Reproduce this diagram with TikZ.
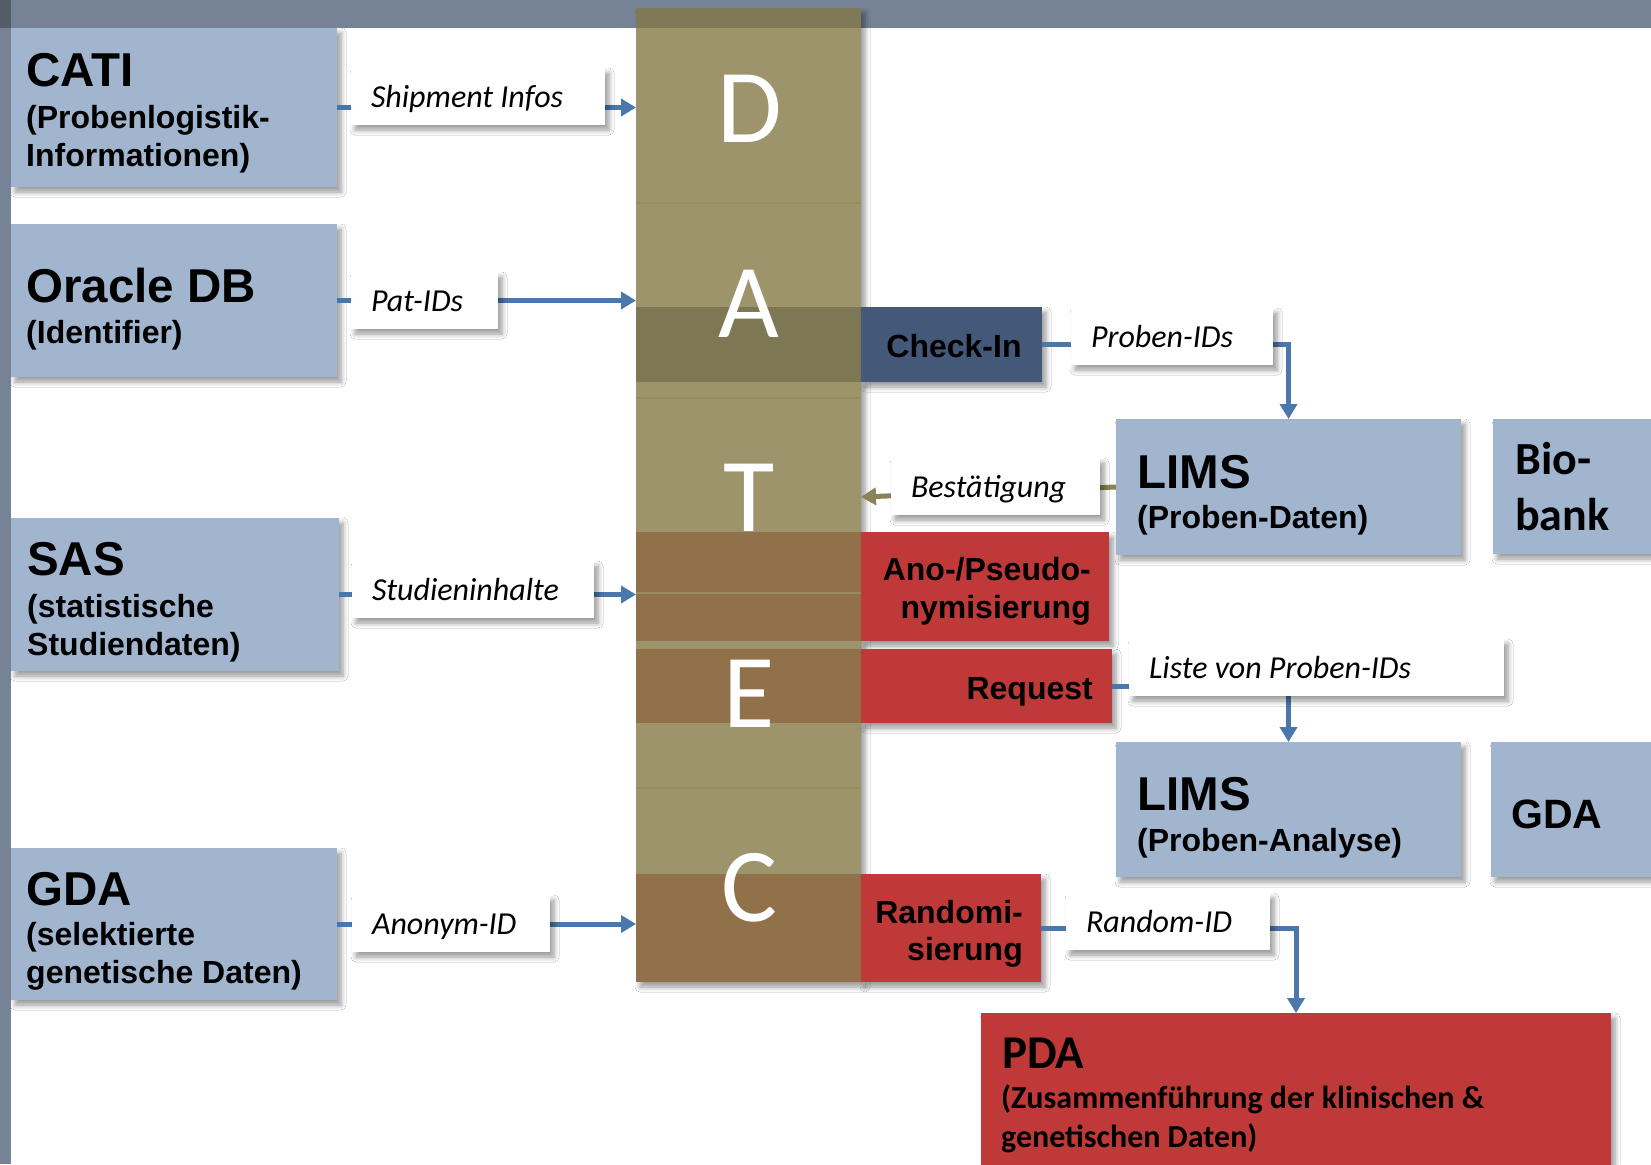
\documentclass[tikz,border=0pt]{standalone}
\usepackage{fontspec}
\usetikzlibrary{arrows.meta,shadows.blur}
\newfontfamily\arialf{Liberation Sans}
\newfontfamily\calf{Carlito}
\definecolor{bandgray}{RGB}{118,131,150}
\definecolor{boxblue}{RGB}{162,181,207}
\definecolor{olivecol}{RGB}{157,148,108}
\definecolor{olivedark}{RGB}{125,120,83}
\definecolor{brownband}{RGB}{144,113,74}
\definecolor{checkblue}{RGB}{68,89,122}
\definecolor{boxred}{RGB}{191,57,57}
\definecolor{flowblue}{RGB}{74,120,173}
\definecolor{flowolive}{RGB}{138,131,86}
\definecolor{dividercol}{RGB}{150,140,92}
\newcommand\lbtext[2]{\makebox[#1][l]{#2}}
\tikzset{
  shd/.style={blur shadow={shadow xshift=4pt, shadow yshift=-5pt, shadow blur radius=5pt, shadow blur steps=6, shadow opacity=40}},
  box/.style={anchor=north west, inner sep=0pt, outer sep=0pt, shd},
  bluebox/.style={box, fill=boxblue},
  redbox/.style={box, fill=boxred},
  lbl/.style={anchor=north west, fill=white, inner xsep=20pt, inner ysep=0pt, outer sep=0pt, minimum height=57pt, text height=25pt, text depth=4pt, font=\calf\itshape\fontsize{32}{38}\selectfont, shd},
  ttl/.style={anchor=base west, inner sep=0pt, font=\arialf\bfseries\fontsize{47.5}{57}\selectfont},
  subt/.style={anchor=base west, inner sep=0pt, font=\arialf\bfseries\fontsize{32}{38}\selectfont},
  redtxt/.style={anchor=base east, inner sep=0pt, font=\arialf\bfseries\fontsize{32}{38}\selectfont},
  letter/.style={anchor=base, inner sep=0pt, text=white, font=\calf\fontsize{105}{120}\selectfont},
  flow/.style={draw=flowblue, line width=5pt, -{Triangle[length=15pt,width=17pt]}},
  flowback/.style={draw=flowolive, line width=5pt, -{Triangle[length=15pt,width=17pt]}},
}
\begin{document}
\begin{tikzpicture}[x=1pt,y=-1pt]
\useasboundingbox (0,0) rectangle (1651,1164);
\clip (0,0) rectangle (1651,1164);
\fill[white] (0,0) rectangle (1651,1164);
% top band
\fill[bandgray] (0,0) rectangle (1651,28);

% DATEC column
\node[box, fill=olivecol, minimum width=225pt, minimum height=974pt] (datec) at (636,8) {};
\fill[black, opacity=0.18] (636,8) rectangle (861,28);
\fill[olivedark] (636,307) rectangle (861,382);
\fill[brownband] (636,532) rectangle (861,641);
\fill[brownband] (636,649) rectangle (861,723);
\fill[brownband] (636,874) rectangle (861,982);
\foreach \yy in {203,398,593,788} \draw[dividercol, line width=2pt] (636,\yy) -- (861,\yy);

% left boxes
\node[bluebox, minimum width=326pt, minimum height=159pt] (cati) at (11,28) {};
\node[bluebox, minimum width=326pt, minimum height=153pt] (oracle) at (11,224) {};
\node[bluebox, minimum width=328pt, minimum height=153pt] (sas) at (11,518) {};
\node[bluebox, minimum width=326pt, minimum height=152pt] (gdaL) at (11,848) {};

% right side boxes
\node[box, fill=checkblue, minimum width=181pt, minimum height=75pt] (checkin) at (861,307) {};
\node[redbox, minimum width=248pt, minimum height=109pt] (ano) at (861,532) {};
\node[redbox, minimum width=251pt, minimum height=74pt] (request) at (861,649) {};
\node[redbox, minimum width=180pt, minimum height=108pt] (randomi) at (861,874) {};
\node[bluebox, minimum width=345pt, minimum height=136pt] (lims1) at (1116,419) {};
\node[bluebox, minimum width=170pt, minimum height=135pt] (biobank) at (1493,419) {};
\node[bluebox, minimum width=345pt, minimum height=135pt] (lims2) at (1116,742) {};
\node[bluebox, minimum width=172pt, minimum height=135pt] (gdaR) at (1491,742) {};
\node[redbox, minimum width=630pt, minimum height=170pt] (pda) at (981,1013) {};

% connectors
\draw[flow] (cati.east) -- (cati.east -| datec.west);
\draw[flow] (oracle.east) -- (oracle.east -| datec.west);
\draw[flow] (sas.east) -- (sas.east -| datec.west);
\draw[flow] (gdaL.east) -- (gdaL.east -| datec.west);
\draw[flow] (checkin.east) -| (lims1.north);
\draw[flow] (request.east) -| (lims2.north);
\draw[flow] (randomi.east) -| (pda.north);
\draw[flowback] (lims1.west) -- (datec.east |- 0,497);

% labels
\node[lbl] (lship) at (351,68) {\lbtext{214pt}{Shipment Infos}};
\node[lbl] (lpat) at (351,272) {\lbtext{107pt}{Pat-IDs}};
\node[lbl] (lstud) at (352,561) {\lbtext{202pt}{Studieninhalte}};
\node[lbl] (lanon) at (352,895) {\lbtext{158pt}{Anonym-ID}};
\node[lbl] (lproben) at (1071,308) {\lbtext{162pt}{Proben-IDs}};
\node[lbl] (lbest) at (891,458) {\lbtext{169pt}{Bestätigung}};
\node[lbl] (lliste) at (1129,639) {\lbtext{335pt}{Liste von Proben-IDs}};
\node[lbl] (lrandom) at (1066,893) {\lbtext{164pt}{Random-ID}};

% DATEC letters
\node[letter] (letD) at (750,142) {D};
\node[letter] (letA) at (749,337) {A};
\node[letter] (letT) at (749,531) {T};
\node[letter] (letE) at (749,727) {E};
\node[letter] (letC) at (749,921) {C};

% texts of left boxes
\node[ttl] (catiT) at (26,86) {CATI};
\node[subt] (catiS1) at (26,128) {(Probenlogistik-};
\node[subt] (catiS2) at (26,166) {Informationen)};
\node[ttl] (oracleT) at (26,302) {Oracle DB};
\node[subt] (oracleS1) at (26,343) {(Identifier)};
\node[ttl] (sasT) at (27,575) {SAS};
\node[subt] (sasS1) at (27,617) {(statistische};
\node[subt] (sasS2) at (27,655) {Studiendaten)};
\node[ttl] (gdaLT) at (26,905) {GDA};
\node[subt] (gdaLS1) at (26,945) {(selektierte};
\node[subt] (gdaLS2) at (26,983) {genetische Daten)};

% texts of right boxes
\node[anchor=base, inner sep=0pt, font=\arialf\bfseries\fontsize{32}{38}\selectfont] (checkinT) at (954,357) {Check-In};
\node[redtxt] (anoT1) at (1091,580) {Ano-/Pseudo-};
\node[redtxt] (anoT2) at (1091,618) {nymisierung};
\node[redtxt] (requestT) at (1093,699) {Request};
\node[redtxt] (randT1) at (1023,923) {Randomi-};
\node[redtxt] (randT2) at (1023,960) {sierung};
\node[ttl] (lims1T) at (1137,488) {LIMS};
\node[subt] (lims1S) at (1137,528) {(Proben-Daten)};
\node[ttl] (lims2T) at (1137,810) {LIMS};
\node[subt] (lims2S) at (1137,851) {(Proben-Analyse)};
\node[anchor=base west, inner sep=0pt, font=\arialf\bfseries\fontsize{41}{49}\selectfont] (gdaRT) at (1511,828) {GDA};
\node[anchor=base west, inner sep=0pt, font=\calf\bfseries\fontsize{46}{56}\selectfont] (bioT1) at (1515,474) {Bio-};
\node[anchor=base west, inner sep=0pt, font=\calf\bfseries\fontsize{46}{56}\selectfont] (bioT2) at (1515,530) {bank};
\node[anchor=base west, inner sep=0pt, font=\calf\bfseries\fontsize{47}{56}\selectfont] (pdaT) at (1002,1068) {PDA};
\node[anchor=base west, inner sep=0pt, font=\calf\bfseries\fontsize{32}{38}\selectfont] (pdaS1) at (1001,1108) {(Zusammenführung der klinischen \&};
\node[anchor=base west, inner sep=0pt, font=\calf\bfseries\fontsize{32}{38}\selectfont] (pdaS2) at (1001,1147) {genetischen Daten)};

% left strip
\fill[bandgray] (0,0) rectangle (11,1164);
\fill[bandgray!70!black] (0,0) rectangle (11,28);
\end{tikzpicture}
\end{document}
